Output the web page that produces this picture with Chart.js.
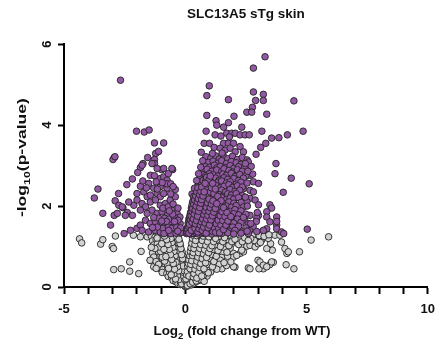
<!DOCTYPE html>
<html>
<head>
<meta charset="utf-8">
<title>SLC13A5 sTg skin</title>
<script src="https://cdn.jsdelivr.net/npm/chart.js@4.4.1/dist/chart.umd.min.js"></script>
<style>
  body { margin: 0; background: #fff; }
</style>
</head>
<body>
<canvas id="volcanoChart" width="443" height="350"></canvas>
<script>
// [log2 fold change, -log10 p] pairs
const sigDown = [
  [-2.67,5.11],[-2.01,3.85],[-1.69,3.83],[-1.49,3.88],[-1.27,3.56],[-0.89,3.56],[-1.22,3.30],[-1.27,3.15],
  [-2.93,3.20],[-2.98,3.15],[-2.90,3.22],[-1.74,3.05],[-1.85,2.95],[-1.96,2.83],[-1.27,3.05],[-0.97,2.90],
  [-0.52,2.90],[-1.44,2.76],[-1.27,2.75],[-3.60,2.42],[-3.75,2.20],[-2.75,2.31],[-2.41,2.53],[-2.18,2.67],
  [-3.40,1.82],[-3.08,1.53],[-2.93,1.77],[-2.52,1.32],[-2.80,1.82],[-2.57,1.96],[-2.89,2.13],[-2.39,1.84],
  [-2.18,1.77],[-2.12,2.02],[-1.78,3.01],[-1.37,3.05],[-1.16,2.93],[-0.89,2.93],[-0.55,2.93],[-1.03,2.68],
  [-0.89,2.72],[-0.75,2.64],[-1.85,2.49],[-1.51,2.56],[-1.30,2.44],[-1.03,2.48],[-0.75,2.44],[-0.41,2.41],
  [-2.33,2.10],[-2.74,2.02],[-2.60,1.98],[-2.47,1.77],[-2.26,1.40],[-1.99,1.45],[-1.85,1.53],
  [-1.99,2.31],[-1.71,2.35],[-1.57,2.23],[-1.44,2.27],[-1.16,2.31],[-1.03,2.23],[-0.89,2.31],[-1.99,2.15],
  [-1.78,2.06],[-1.64,1.98],[-1.44,2.10],[-1.23,2.15],[-1.03,2.02],[-0.82,2.06],[-0.62,2.15],[-0.41,2.23],
  [-1.85,1.90],[-1.57,1.82],[-1.37,1.90],[-1.16,1.82],[-0.96,1.86],[-0.75,1.77],[-0.55,1.90],[-0.34,1.82],
  [-0.22,1.73],[-1.64,1.65],[-1.44,1.57],[-1.23,1.61],[-1.03,1.53],[-0.82,1.57],[-0.62,1.61],[-0.41,1.53],
  [-0.21,1.57],[-1.78,1.40],[-1.51,1.36],[-1.23,1.40],[-1.03,1.36],[-0.75,1.39],[-0.48,1.36],[-0.27,1.42],
  [-0.14,1.35],[-0.92,1.95],[-0.70,1.98],[-0.50,2.05],[-0.30,1.95],[-0.85,1.70],[-0.65,1.68],[-0.45,1.72],
  [-0.30,1.65],[-0.92,1.45],[-0.70,1.48],[-0.55,1.45],[-0.35,1.48],[-0.20,1.46],[-0.60,1.32],[-0.38,1.33],
  [-0.88,1.32],[-1.15,1.48],[-1.35,1.47],[-1.10,1.70],[-1.30,1.72],[-0.60,2.30],[-0.75,2.55],[-0.60,2.55],
  [-0.95,2.58],[-1.20,2.60],[-1.15,2.42],[-0.50,2.48],[-1.60,2.45],[-1.75,2.62],[-1.10,3.35],[-0.70,2.80],
  [-1.55,3.20],[-0.31,1.38],[-0.44,1.62],[-0.52,1.80],[-0.66,1.88],[-0.78,1.62],[-0.97,1.63],[-0.68,1.40]
];

const sigUp = [
  [3.29,5.69],[2.81,5.41],[0.99,4.97],[0.89,4.73],[1.78,4.63],[2.81,4.82],[3.22,4.76],[2.90,4.61],
  [3.22,4.61],[4.48,4.60],[2.77,4.44],[2.54,4.32],[2.74,4.32],[3.36,4.27],[0.89,4.24],[2.01,4.22],
  [1.27,4.11],[1.30,4.00],[1.58,3.95],[1.78,4.06],[2.33,3.95],[0.86,3.85],[1.23,3.76],[1.47,3.73],
  [1.71,3.80],[1.92,3.80],[1.82,3.71],[2.06,3.80],[2.26,3.76],[2.47,3.76],[2.64,3.76],[3.16,3.85],
  [4.21,3.76],[4.86,3.85],[3.86,3.69],[3.56,3.68],[3.32,3.55],[3.11,3.45],[2.92,3.28],[0.78,3.55],
  [1.00,3.55],[1.19,3.45],[1.58,3.55],[1.78,3.55],[1.99,3.55],[1.44,3.43],[1.64,3.38],[1.85,3.43],
  [2.06,3.34],[2.26,3.47],[2.40,3.34],[3.74,3.05],[3.70,2.80],[4.37,2.69],[5.11,2.55],[4.04,2.34],
  [5.03,1.43],
  [2.67,2.76],[2.81,2.60],[3.02,2.56],[2.40,2.43],[2.67,2.39],[2.81,2.35],[2.67,2.19],[2.88,2.15],
  [2.54,2.11],[3.02,2.03],[3.49,2.03],[3.56,1.95],[3.36,1.86],[2.67,1.77],[3.02,1.77],[3.36,1.73],
  [3.77,1.73],[3.49,1.61],[3.77,1.53],[3.36,1.44],[3.77,1.44],[3.97,1.36],[3.77,1.62],[4.06,1.32],
  [3.22,1.40],[2.95,1.70],[2.97,1.84],[2.93,1.62],
  [0.85,3.22],[1.05,3.18],[1.25,3.24],[1.40,3.16],[1.60,3.21],[1.75,3.17],[1.95,3.23],[2.15,3.15],[2.35,3.20],[2.55,3.14],
  [0.95,3.08],[1.15,3.11],[1.35,3.06],[1.50,3.12],[1.70,3.05],[1.90,3.10],[2.10,3.07],[2.30,3.03],[2.60,3.09],
  [0.80,2.99],[1.00,2.96],[1.20,3.01],[1.30,2.94],[1.45,2.98],[1.65,2.95],[1.85,3.00],[2.00,2.93],[2.20,2.97],[2.45,2.95],[2.72,2.98],
  [0.75,2.87],[0.90,2.91],[1.10,2.86],[1.30,2.89],[1.50,2.85],[1.60,2.92],[1.80,2.88],[1.95,2.84],[2.15,2.90],[2.35,2.86],
  [0.70,2.78],[0.85,2.75],[1.00,2.80],[1.15,2.77],[1.35,2.74],[1.55,2.79],[1.70,2.76],[1.90,2.81],[2.05,2.73],[2.25,2.78],[2.50,2.75],[2.78,2.79],
  [0.60,2.68],[0.80,2.66],[0.95,2.71],[1.10,2.65],[1.25,2.69],[1.40,2.64],[1.60,2.70],[1.75,2.66],[2.00,2.68],[2.20,2.63],[2.40,2.69],
  [0.55,2.58],[0.70,2.61],[0.90,2.56],[1.05,2.60],[1.20,2.55],[1.35,2.59],[1.50,2.62],[1.70,2.57],[1.85,2.60],[2.10,2.54],[2.30,2.59],[2.55,2.57],
  [0.50,2.48],[0.65,2.51],[0.80,2.46],[0.95,2.50],[1.10,2.47],[1.25,2.52],[1.45,2.45],[1.60,2.49],[1.80,2.53],[1.95,2.46],[2.15,2.50],[2.35,2.47],
  [0.45,2.38],[0.60,2.41],[0.75,2.36],[0.90,2.40],[1.00,2.35],[1.15,2.42],[1.30,2.37],[1.50,2.39],[1.65,2.34],[1.85,2.41],[2.05,2.36],[2.25,2.39],
  [0.40,2.29],[0.55,2.26],[0.70,2.31],[0.85,2.27],[1.00,2.30],[1.10,2.25],[1.25,2.32],[1.40,2.28],[1.55,2.24],[1.75,2.30],[1.90,2.27],[2.10,2.31],[2.35,2.26],
  [0.35,2.18],[0.50,2.21],[0.60,2.16],[0.75,2.20],[0.90,2.17],[1.05,2.22],[1.20,2.15],[1.35,2.19],[1.50,2.21],[1.70,2.16],[1.85,2.20],[2.00,2.17],[2.20,2.21],
  [0.30,2.08],[0.45,2.11],[0.55,2.06],[0.70,2.10],[0.85,2.07],[0.95,2.12],[1.10,2.05],[1.25,2.09],[1.40,2.11],[1.60,2.06],[1.80,2.10],[2.00,2.07],[2.30,2.09],
  [0.30,1.98],[0.40,2.01],[0.50,1.96],[0.65,2.00],[0.80,1.97],[0.90,2.02],[1.05,1.95],[1.20,1.99],[1.35,2.01],[1.50,1.96],[1.70,2.00],[1.90,1.97],[2.10,2.01],[2.40,1.98],
  [0.25,1.88],[0.35,1.91],[0.45,1.86],[0.60,1.90],[0.70,1.87],[0.85,1.92],[1.00,1.85],[1.15,1.89],[1.30,1.91],[1.45,1.86],[1.65,1.90],[1.85,1.87],[2.05,1.91],[2.30,1.88],
  [0.20,1.78],[0.30,1.81],[0.40,1.76],[0.50,1.80],[0.65,1.77],[0.80,1.82],[0.95,1.75],[1.10,1.79],[1.25,1.81],[1.40,1.76],[1.60,1.80],[1.80,1.77],[2.00,1.81],[2.20,1.78],[2.50,1.80],
  [0.15,1.68],[0.25,1.71],[0.35,1.66],[0.45,1.70],[0.55,1.67],[0.70,1.72],[0.85,1.65],[1.00,1.69],[1.15,1.71],[1.30,1.66],[1.50,1.70],[1.70,1.67],[1.90,1.71],[2.15,1.68],[2.45,1.66],
  [0.12,1.58],[0.20,1.61],[0.30,1.56],[0.40,1.60],[0.50,1.57],[0.60,1.62],[0.75,1.55],[0.90,1.59],[1.05,1.61],[1.20,1.56],[1.40,1.60],[1.60,1.57],[1.80,1.61],[2.00,1.58],[2.30,1.60],[2.60,1.56],
  [0.10,1.48],[0.18,1.51],[0.27,1.46],[0.35,1.50],[0.45,1.47],[0.55,1.52],[0.65,1.45],[0.80,1.49],[0.95,1.51],[1.10,1.46],[1.30,1.50],[1.50,1.47],[1.70,1.51],[1.95,1.48],[2.20,1.50],[2.50,1.46],[2.80,1.49],
  [0.06,1.38],[0.14,1.41],[0.22,1.36],[0.30,1.40],[0.40,1.37],[0.50,1.42],[0.60,1.35],[0.72,1.39],[0.85,1.41],[1.00,1.36],[1.15,1.40],[1.35,1.37],[1.55,1.41],[1.80,1.38],[2.05,1.40],[2.35,1.36],[2.65,1.39],[2.95,1.37],
  [0.05,1.32],[0.12,1.34],[0.20,1.31],[0.28,1.33],[0.36,1.32],[0.45,1.34],[0.55,1.31],[0.68,1.33],[0.80,1.32],[0.95,1.34],[1.10,1.31],[1.30,1.33],[1.50,1.32],[1.75,1.34],[2.00,1.31],[2.30,1.33],[2.60,1.32]
];

// the near-black band along the inner edge of the up-regulated arm
const sigUpDense = [
  [0.18,1.44],[0.23,1.55],[0.26,1.64],[0.31,1.73],[0.33,1.84],[0.37,1.95],[0.42,2.04],[0.47,2.14],[0.52,2.24],[0.57,2.33],
  [0.62,2.45],[0.67,2.54],[0.73,2.63],[0.21,1.37],[0.27,1.52],[0.34,1.58],[0.38,1.69],[0.43,1.77],[0.48,1.88],[0.53,1.97],
  [0.58,2.06],[0.63,2.19],[0.69,2.28],[0.74,2.40],[0.79,2.52],[0.84,2.62],[0.88,2.71],[0.32,1.43],[0.39,1.53],[0.44,1.62],
  [0.52,1.71],[0.57,1.83],[0.62,1.93],[0.66,2.03],[0.72,2.13],[0.78,2.22],[0.83,2.33],[0.88,2.44],[0.93,2.55],[0.98,2.65],
  [1.03,2.74],[0.46,1.39],[0.53,1.48],[0.58,1.57],[0.64,1.66],[0.69,1.76],[0.74,1.86],[0.79,1.95],[0.86,2.04],[0.92,2.14],
  [0.97,2.24],[1.03,2.35],[1.08,2.45],[1.13,2.56],[0.62,1.40],[0.70,1.50],[0.77,1.62],[0.83,1.71],[0.88,1.80],[0.94,1.90],
  [1.00,2.00],[1.07,2.11],[1.13,2.20],[1.18,2.31],[1.24,2.42],[0.76,1.35],[0.84,1.45],[0.91,1.54],[0.98,1.64],[1.04,1.74],
  [1.10,1.84],[1.17,1.94],[1.23,2.04],[1.28,2.14],[1.34,2.24],[0.90,1.36],[1.02,1.44],[1.08,1.55],[1.15,1.63],[1.22,1.73],
  [1.28,1.84],[1.35,1.93],[1.42,2.03],[1.48,2.13],[1.12,1.38],[1.20,1.47],[1.28,1.56],[1.36,1.65],[1.44,1.76],[1.52,1.86],
  [1.58,1.96],[1.25,1.35],[1.38,1.44],[1.47,1.53],[1.55,1.64],[1.64,1.74],[1.72,1.84],[1.42,1.34],[1.58,1.42],[1.68,1.53],
  [1.76,1.63],[1.88,1.74],[0.28,2.30],[0.38,2.44],[0.47,2.63],[0.55,2.80],[0.64,2.96],[0.72,3.12],[0.66,3.33],[1.12,3.30],
  [1.52,3.31],[2.48,3.05],[2.58,2.86],[2.48,2.22],[2.56,2.00],[2.40,1.72],[2.70,1.57],[2.55,1.38],
  [0.08,1.35],[0.10,1.43],[0.13,1.50],[0.16,1.62],[0.18,1.72],[0.22,1.84],[0.25,1.95],[0.28,2.02],[0.32,2.12],[0.36,2.24],
  [0.15,1.33],[0.17,1.55],[0.21,1.66],[0.24,1.76],[0.28,1.86],[0.31,1.94],[0.35,2.05],[0.39,2.15],[0.43,2.25],[0.48,2.35],
  [0.52,2.45],[0.25,1.40],[0.28,1.60],[0.33,1.68],[0.37,1.80],[0.41,1.90],[0.45,2.00],[0.50,2.10],[0.54,2.18],[0.59,2.28],
  [0.64,2.36],[0.68,2.47],[0.40,1.45],[0.42,1.56],[0.47,1.64],[0.51,1.75],[0.55,1.87],[0.60,1.96],[0.64,2.07],[0.68,2.16],
  [0.73,2.25],[0.78,2.35],[0.82,2.56],[0.52,1.36],[0.57,1.44],[0.62,1.53],[0.67,1.61],[0.72,1.68],[0.77,1.79],[0.82,1.88],
  [0.87,1.97],[0.92,2.08],[0.98,2.17],[0.70,1.40],[0.76,1.48],[0.82,1.58],[0.88,1.68],[0.93,1.77],[0.98,1.87],[1.03,1.96],
  [1.08,2.05],[1.14,2.13],[0.86,1.33],[0.94,1.46],[1.00,1.53],[1.06,1.66],[1.12,1.76],[1.18,1.85],[1.24,1.94],[1.30,2.06]
];

const nsDown = [
  [-4.36,1.19],[-4.27,1.09],[-3.49,1.06],[-3.40,1.17],[-3.01,1.00],[-2.96,0.95],[-2.88,1.26],[-2.95,0.43],
  [-2.64,0.45],[-2.29,0.62],[-2.29,0.39],[-1.92,0.33],[-1.82,0.88],[-2.14,1.28],[-1.85,1.24],[-1.57,1.24],
  [-1.44,0.66],[-1.30,0.50],[-1.03,0.45],[-1.16,0.62],
  [-1.40,1.26],[-1.25,1.23],[-1.10,1.27],[-0.95,1.24],[-0.80,1.28],[-0.65,1.22],[-0.50,1.26],[-0.38,1.23],[-0.28,1.27],
  [-1.35,1.14],[-1.20,1.17],[-1.05,1.12],[-0.90,1.16],[-0.75,1.13],[-0.60,1.18],[-0.47,1.14],[-0.34,1.17],[-0.24,1.12],
  [-1.30,1.04],[-1.15,1.07],[-1.00,1.02],[-0.85,1.06],[-0.70,1.03],[-0.56,1.08],[-0.43,1.04],[-0.30,1.06],[-0.20,1.02],
  [-1.20,0.94],[-1.05,0.97],[-0.90,0.92],[-0.75,0.96],[-0.62,0.93],[-0.50,0.98],[-0.38,0.94],[-0.27,0.96],[-0.17,0.92],
  [-1.35,0.84],[-1.10,0.87],[-0.95,0.82],[-0.80,0.86],[-0.66,0.83],[-0.53,0.88],[-0.41,0.84],[-0.30,0.86],[-0.20,0.82],[-0.12,0.85],
  [-1.30,0.74],[-1.00,0.77],[-0.86,0.72],[-0.72,0.76],[-0.58,0.73],[-0.46,0.78],[-0.35,0.74],[-0.25,0.76],[-0.16,0.72],[-0.08,0.75],
  [-1.45,0.66],[-1.20,0.63],[-0.92,0.67],[-0.77,0.64],[-0.63,0.68],[-0.51,0.62],[-0.40,0.66],[-0.30,0.63],[-0.20,0.67],[-0.11,0.64],[-0.04,0.66],
  [-1.10,0.56],[-0.82,0.53],[-0.68,0.57],[-0.55,0.54],[-0.44,0.58],[-0.34,0.52],[-0.25,0.56],[-0.16,0.53],[-0.08,0.57],[-0.01,0.54],
  [-1.20,0.46],[-0.92,0.43],[-0.72,0.47],[-0.58,0.44],[-0.47,0.48],[-0.37,0.42],[-0.28,0.46],[-0.19,0.43],[-0.11,0.47],[-0.04,0.44],
  [-0.95,0.36],[-0.76,0.33],[-0.61,0.37],[-0.49,0.34],[-0.39,0.38],[-0.30,0.32],[-0.22,0.36],[-0.14,0.33],[-0.06,0.37],
  [-0.70,0.26],[-0.56,0.23],[-0.43,0.27],[-0.33,0.24],[-0.25,0.28],[-0.17,0.22],[-0.10,0.26],[-0.03,0.23],
  [-0.50,0.16],[-0.38,0.13],[-0.28,0.17],[-0.20,0.14],[-0.13,0.18],[-0.07,0.12],[-0.01,0.16],
  [-0.30,0.08],[-0.20,0.06],[-0.12,0.09],[-0.06,0.05],[-0.02,0.03],[0.00,0.01]
];

const nsUp = [
  [5.91,1.24],[5.19,1.16],[4.71,0.87],[4.19,0.83],[4.11,0.95],[4.16,0.55],[4.48,0.45],[3.59,0.91],
  [3.63,0.61],[3.48,0.55],[3.36,0.95],[3.22,0.45],[3.04,0.45],[3.00,0.66],[2.60,0.47],[3.52,1.07],
  [2.54,1.01],[3.19,1.22],[2.99,1.24],[3.97,1.11],[1.99,0.83],[2.05,0.49],
  [1.16,0.45],[1.51,0.45],[1.99,0.50],[1.99,0.74],[2.26,0.83],[2.40,0.87],[2.67,1.03],[2.88,0.99],
  [3.01,1.07],[3.15,1.16],[3.42,1.20],[3.08,0.62],[3.22,0.54],[3.36,0.50],[3.56,0.62],[2.67,0.45],
  [3.70,1.28],[3.90,1.28],[4.25,0.87],[2.33,0.91],[2.12,0.78],[0.89,0.33],
  [2.80,1.30],[3.05,1.27],[3.25,1.25],[3.45,1.29],[2.85,1.15],[3.10,1.10],[2.70,1.20],
  [0.32,1.26],[0.44,1.23],[0.56,1.27],[0.68,1.24],[0.80,1.28],[0.92,1.22],[1.06,1.26],[1.20,1.23],[1.35,1.27],[1.50,1.24],[1.70,1.28],[1.90,1.22],[2.10,1.26],[2.30,1.23],[2.50,1.27],
  [0.30,1.14],[0.40,1.17],[0.51,1.12],[0.62,1.16],[0.74,1.13],[0.87,1.18],[1.00,1.14],[1.15,1.17],[1.30,1.12],[1.50,1.16],[1.70,1.13],[1.95,1.17],[2.20,1.14],
  [0.28,1.04],[0.37,1.07],[0.47,1.02],[0.58,1.06],[0.69,1.03],[0.81,1.08],[0.95,1.04],[1.10,1.06],[1.25,1.02],[1.45,1.07],[1.65,1.03],[1.90,1.06],
  [0.25,0.94],[0.34,0.97],[0.43,0.92],[0.53,0.96],[0.63,0.93],[0.76,0.98],[0.90,0.94],[1.05,0.96],[1.20,0.92],[1.40,0.97],[1.60,0.93],[1.85,0.96],
  [0.22,0.84],[0.30,0.87],[0.39,0.82],[0.48,0.86],[0.58,0.83],[0.70,0.88],[0.85,0.84],[1.00,0.86],[1.15,0.82],[1.35,0.87],[1.55,0.83],
  [0.17,0.74],[0.25,0.77],[0.34,0.72],[0.43,0.76],[0.53,0.73],[0.65,0.78],[0.80,0.74],[0.95,0.76],[1.10,0.72],[1.30,0.77],[1.50,0.73],[1.75,0.76],
  [0.12,0.66],[0.21,0.63],[0.30,0.67],[0.40,0.64],[0.50,0.68],[0.62,0.62],[0.75,0.66],[0.90,0.63],[1.05,0.67],[1.25,0.64],[1.45,0.66],
  [0.08,0.56],[0.17,0.53],[0.26,0.57],[0.36,0.54],[0.46,0.58],[0.58,0.52],[0.70,0.56],[0.85,0.53],[1.00,0.57],[1.20,0.54],[1.40,0.56],[1.70,0.53],
  [0.10,0.46],[0.18,0.43],[0.27,0.47],[0.36,0.44],[0.46,0.48],[0.56,0.42],[0.68,0.46],[0.82,0.43],[0.98,0.47],[1.30,0.44],
  [0.12,0.36],[0.20,0.33],[0.28,0.37],[0.37,0.34],[0.47,0.38],[0.58,0.32],[0.70,0.36],[0.85,0.33],[1.05,0.37],
  [0.05,0.26],[0.12,0.23],[0.19,0.27],[0.27,0.24],[0.35,0.28],[0.44,0.22],[0.55,0.26],[0.70,0.23],[0.90,0.27],
  [0.06,0.16],[0.12,0.13],[0.18,0.17],[0.25,0.14],[0.33,0.18],[0.42,0.12],[0.55,0.16],
  [0.05,0.08],[0.10,0.06],[0.16,0.09],[0.24,0.05],[0.32,0.08],[0.02,0.03],[0.08,0.02]
];

// the dark V where the non-significant points pile up
const nsDense = [
  [-0.05,0.10],[-0.09,0.19],[-0.13,0.28],[-0.18,0.39],[-0.22,0.50],[-0.26,0.60],[-0.31,0.71],[-0.35,0.81],[-0.39,0.92],[-0.44,1.03],
  [-0.48,1.13],[-0.53,1.22],[-0.08,0.31],[-0.12,0.42],[-0.15,0.60],[-0.21,0.70],[-0.24,0.81],[-0.28,0.91],[-0.33,1.00],[-0.37,1.10],
  [-0.42,1.20],[-0.15,0.08],[-0.24,0.19],[-0.30,0.29],[-0.35,0.45],[-0.41,0.55],[-0.45,0.68],[-0.52,0.79],[-0.57,0.90],[-0.62,1.01],
  [-0.68,1.12],[-0.72,1.25],[-0.40,0.20],[-0.46,0.33],[-0.53,0.40],[-0.60,0.51],[-0.66,0.62],[-0.70,0.85],[-0.78,0.99],[-0.84,1.11],
  [-0.92,1.20],[-0.65,0.37],[-0.75,0.58],[-0.85,0.64],[-0.95,0.74],[-1.02,0.88],[-1.08,0.99],[-1.16,1.21],[-1.25,0.95],[-1.40,0.98],
  [0.04,0.12],[0.08,0.22],[0.11,0.31],[0.14,0.41],[0.16,0.51],[0.18,0.61],[0.20,0.70],[0.23,0.80],[0.26,0.90],[0.29,0.99],
  [0.32,1.09],[0.35,1.19],[0.38,1.29],[0.09,0.04],[0.14,0.20],[0.17,0.29],[0.22,0.39],[0.25,0.50],[0.28,0.60],[0.32,0.71],
  [0.35,0.79],[0.38,0.89],[0.41,0.99],[0.44,1.10],[0.48,1.21],[0.20,0.08],[0.26,0.18],[0.31,0.30],[0.34,0.41],[0.39,0.49],
  [0.42,0.58],[0.46,0.69],[0.50,0.80],[0.54,0.90],[0.57,1.00],[0.61,1.10],[0.65,1.20],[0.30,0.12],[0.38,0.23],[0.43,0.33],
  [0.50,0.42],[0.53,0.52],[0.58,0.63],[0.62,0.72],[0.67,0.82],[0.72,0.93],[0.77,1.03],[0.82,1.13],[0.86,1.23],[0.45,0.15],
  [0.52,0.30],[0.62,0.40],[0.66,0.51],[0.73,0.60],[0.79,0.69],[0.86,0.79],[0.92,0.89],[0.98,0.99],[1.04,1.10],[1.10,1.20],
  [0.63,0.19],[0.75,0.29],[0.80,0.52],[0.92,0.56],[1.00,0.71],[1.08,0.81],[1.15,0.93],[1.22,1.04],[1.30,1.16],[1.38,1.25],
  [0.78,0.14],[0.95,0.35],[1.12,0.50],[1.18,0.63],[1.28,0.76],[1.35,0.90],[1.45,1.00],[1.55,1.12],[1.62,1.22],[1.60,0.60],
  [1.72,0.86],[1.80,1.02],[1.92,1.12],[2.05,1.18],[1.88,0.62],[2.20,1.05],[2.35,1.12],[2.45,1.22],[2.60,1.15],
  [-0.03,0.19],[-0.06,0.27],[-0.10,0.37],[-0.13,0.50],[-0.17,0.57],[-0.19,0.77],[-0.23,0.88],[-0.27,1.08],[-0.31,1.16],[-0.36,1.25],
  [-0.04,0.40],[-0.09,0.52],[-0.11,0.70],[-0.15,0.80],[-0.18,0.95],[-0.21,1.07],[-0.26,1.18],[-0.33,0.57],[-0.37,0.68],[-0.42,0.77],
  [-0.47,0.88],[-0.51,0.98],[-0.55,1.10],[-0.59,1.20],[-0.27,0.40],[-0.32,0.50],[-0.38,0.61],[-0.44,0.44],[-0.49,0.58],[-0.56,0.68],
  [-0.61,0.80],[-0.66,0.93],[-0.71,1.05],[-0.77,1.17],[-0.86,1.26],[-0.58,0.30],[-0.69,0.46],[-0.80,0.75],[-0.88,0.93],[-0.97,1.07],
  [0.03,0.20],[0.06,0.30],[0.09,0.38],[0.10,0.52],[0.13,0.58],[0.15,0.67],[0.19,0.77],[0.21,0.88],[0.24,0.97],[0.27,1.08],
  [0.30,1.20],[0.34,1.28],[0.15,0.27],[0.20,0.45],[0.23,0.56],[0.27,0.65],[0.30,0.78],[0.33,0.85],[0.36,0.95],[0.40,1.05],
  [0.43,1.15],[0.47,1.27],[0.33,0.25],[0.36,0.33],[0.40,0.44],[0.44,0.54],[0.48,0.64],[0.52,0.74],[0.55,0.85],[0.60,0.95],
  [0.64,1.05],[0.70,1.15],[0.74,1.26],[0.48,0.22],[0.56,0.36],[0.60,0.48],[0.64,0.58],[0.70,0.70],[0.75,0.82],[0.80,0.92],
  [0.85,1.03],[0.92,1.12],[0.97,1.24],[0.68,0.27],[0.77,0.45],[0.84,0.60],[0.88,0.73],[0.96,0.85],[1.02,0.95],[1.10,1.02],
  [1.17,1.12],[1.25,1.20]
];

const chartTitle = 'SLC13A5 sTg skin';
const xTitleParts = [{ text: 'Log' }, { text: '2', sub: true }, { text: ' (fold change from WT)' }];
const yTitleParts = [{ text: '-log' }, { text: '10', sub: true }, { text: '(p-value)' }];
const xMajorTicks = [-5, 0, 5, 10];

const purple = '#9358a3';
const grey = '#d2d2d2';
const edge = '#222';
const fontFamily = '"Liberation Sans", Arial, Helvetica, sans-serif';
const mainFont = 'bold 13.5px ' + fontFamily;
const subFont = 'bold 9.5px ' + fontFamily;

const toXY = p => ({ x: p[0], y: p[1] });

function drawWithSubscript(ctx, parts, cx, y, stretch) {
    let width = 0;
    parts.forEach(p => {
        ctx.font = p.sub ? subFont : mainFont;
        width += ctx.measureText(p.text).width;
    });
    ctx.save();
    ctx.translate(cx, y);
    ctx.scale(stretch, 1);
    ctx.textAlign = 'left';
    ctx.textBaseline = 'alphabetic';
    let x = -width / 2;
    parts.forEach(p => {
        ctx.font = p.sub ? subFont : mainFont;
        ctx.fillText(p.text, x, p.sub ? 4 : 0);
        x += ctx.measureText(p.text).width;
    });
    ctx.restore();
}

// axis titles need subscripts, so they are drawn here
const axisTitles = {
    id: 'axisTitles',
    afterDraw(chart) {
        const { ctx, chartArea } = chart;
        const midX = (chartArea.left + chartArea.right) / 2;
        const midY = (chartArea.top + chartArea.bottom) / 2;
        ctx.save();
        ctx.fillStyle = '#111';
        drawWithSubscript(ctx, xTitleParts, midX - 4, chartArea.bottom + 48, 1);
        ctx.translate(chartArea.left - 38, midY - 8);
        ctx.rotate(-Math.PI / 2);
        drawWithSubscript(ctx, yTitleParts, 0, 0, 1.3);
        ctx.restore();
    }
};

const ctx = document.getElementById('volcanoChart').getContext('2d');

const pointStyle = {
    borderColor: edge,
    borderWidth: 0.9,
    pointRadius: 3.3,
    pointHoverRadius: 3.3,
    clip: false
};

new Chart(ctx, {
    type: 'scatter',
    data: {
        datasets: [
            Object.assign({ label: 'Significant', data: sigDown.concat(sigUp, sigUpDense).map(toXY), backgroundColor: purple }, pointStyle),
            Object.assign({ label: 'Not significant', data: nsDown.concat(nsUp, nsDense).map(toXY), backgroundColor: grey }, pointStyle)
        ]
    },
    options: {
        responsive: false,
        animation: false,
        devicePixelRatio: 1,
        layout: { padding: { left: 0, right: 14, top: 0, bottom: 0 } },
        plugins: {
            legend: { display: false },
            tooltip: { enabled: false },
            title: {
                display: true,
                text: chartTitle,
                fullSize: false,
                color: '#111',
                font: { family: fontFamily, size: 13.5, weight: 'bold' },
                padding: { top: 6, bottom: 22 }
            }
        },
        scales: {
            x: {
                type: 'linear',
                min: -5,
                max: 10,
                afterFit: scale => { scale.height = 63; },
                border: { color: '#000', width: 2 },
                grid: { display: true, drawOnChartArea: false, drawTicks: true, tickLength: 7, tickWidth: 2, tickColor: '#000' },
                ticks: {
                    stepSize: 1,
                    autoSkip: false,
                    maxRotation: 0,
                    padding: 8,
                    color: '#111',
                    font: { family: fontFamily, size: 13, weight: 'bold' },
                    callback: v => (xMajorTicks.includes(v) ? String(v) : '')
                }
            },
            y: {
                type: 'linear',
                min: 0,
                max: 6,
                afterFit: scale => { scale.width = 64; },
                border: { color: '#000', width: 2 },
                grid: { display: true, drawOnChartArea: false, drawTicks: true, tickLength: 6, tickWidth: 2, tickColor: '#000' },
                ticks: {
                    stepSize: 2,
                    minRotation: 90,
                    maxRotation: 90,
                    crossAlign: 'center',
                    padding: 7,
                    color: '#111',
                    font: { family: fontFamily, size: 13, weight: 'bold' }
                }
            }
        }
    },
    plugins: [axisTitles]
});
</script>
</body>
</html>
